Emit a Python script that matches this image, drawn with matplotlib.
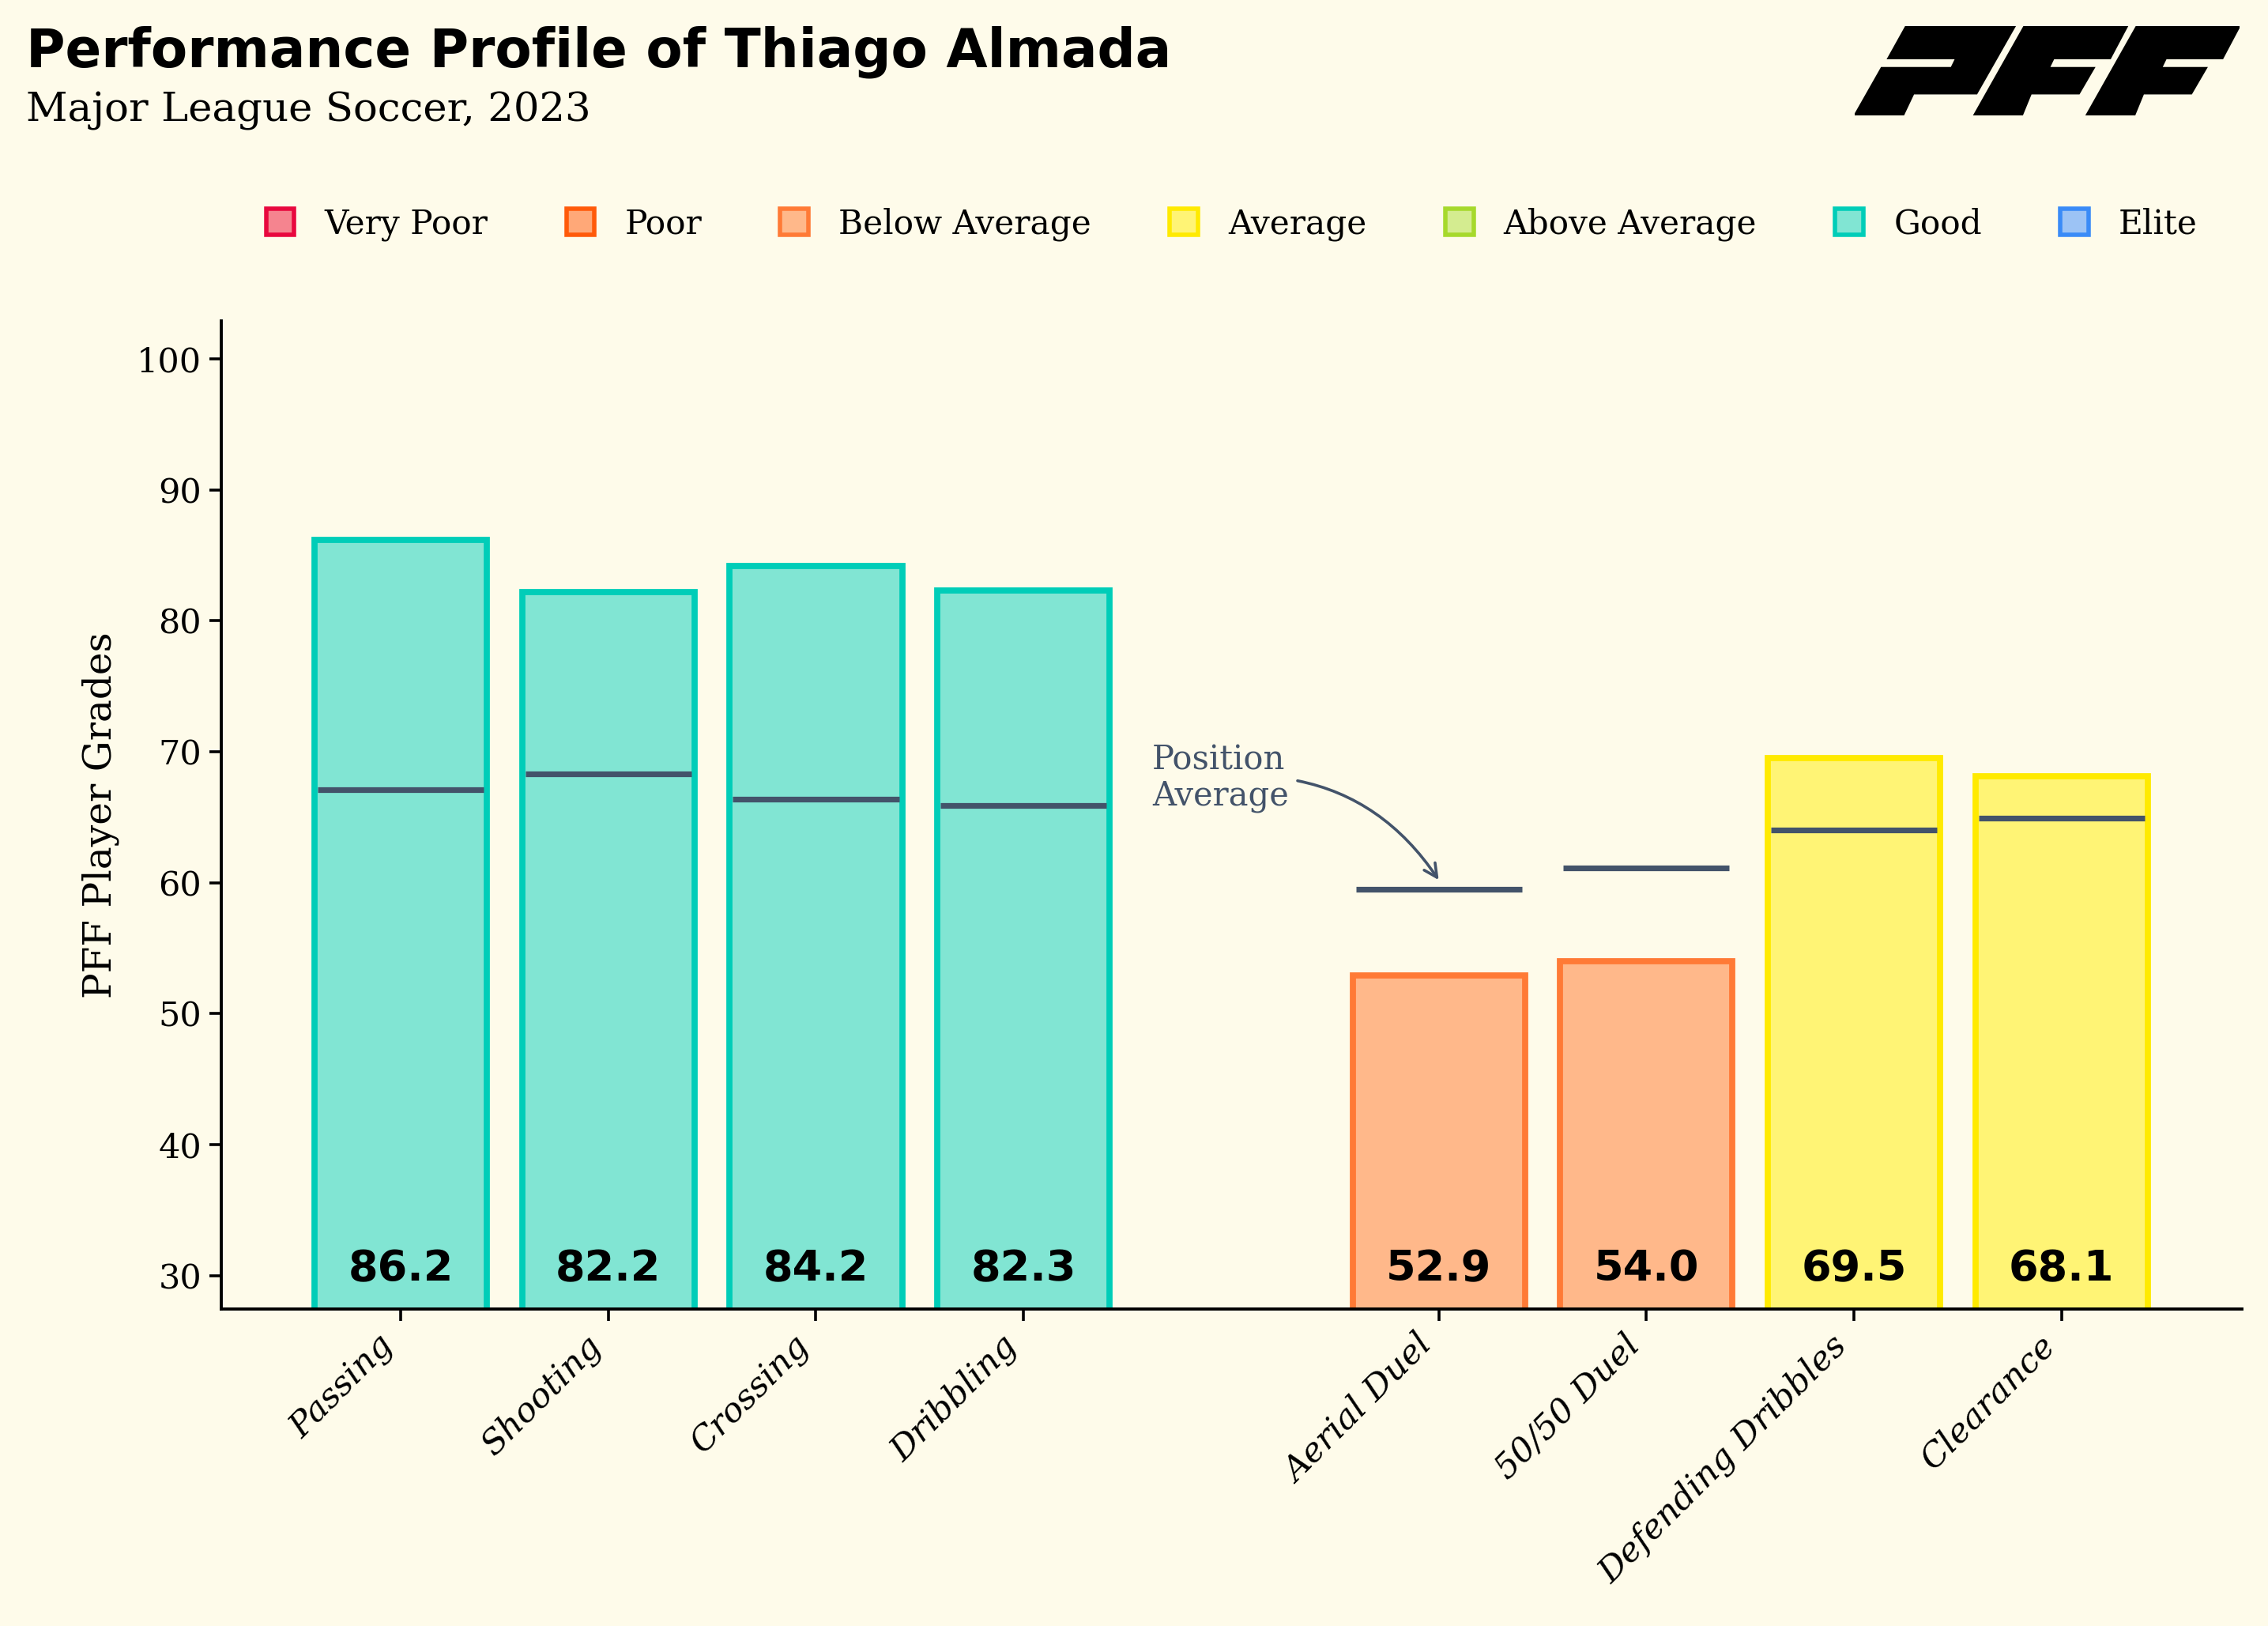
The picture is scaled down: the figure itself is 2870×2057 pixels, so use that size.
import numpy as np
import matplotlib.pyplot as plt
from matplotlib.patches import Patch, Polygon

# data
metrics = ['Passing', 'Shooting', 'Crossing', 'Dribbling',
           'Aerial Duel', '50/50 Duel', 'Defending Dribbles', 'Clearance']
positions = [0, 1, 2, 3, 5, 6, 7, 8]
grades = [86.2, 82.2, 84.2, 82.3, 52.9, 54.0, 69.5, 68.1]
position_avg = [67.1, 68.3, 66.4, 65.9, 59.5, 61.1, 64.0, 64.9]
grade_band = ['Good', 'Good', 'Good', 'Good',
              'Below Average', 'Below Average', 'Average', 'Average']

bands = ['Very Poor', 'Poor', 'Below Average', 'Average', 'Above Average', 'Good', 'Elite']
band_fill = ['#F5848F', '#FFA878', '#FFB88A', '#FFF475', '#D4EC90', '#81E5D3', '#9CC3F5']
band_edge = ['#E8083E', '#FF5A0A', '#FF7A36', '#FFEA00', '#A6D92C', '#00CDB8', '#3A8BF7']

bg = '#FEFBEA'
avg_col = '#43536A'
serif = 'DejaVu Serif'

plt.rcParams['font.family'] = serif

fig = plt.figure(figsize=(14.35, 10.285), dpi=200, facecolor=bg)
ax = fig.add_axes([0.0976, 0.195, 0.891, 0.6077], facecolor=bg)

fills = [band_fill[bands.index(b)] for b in grade_band]
edges = [band_edge[bands.index(b)] for b in grade_band]
ax.bar(positions, grades, width=0.83, color=fills, edgecolor=edges, linewidth=2.8, zorder=2)

# position average markers
ax.hlines(position_avg, np.array(positions) - 0.4, np.array(positions) + 0.4,
          color=avg_col, linewidth=2.6, zorder=3)

# grade labels at the foot of each bar
for x, g in zip(positions, grades):
    ax.text(x, 30.5, f'{g:.1f}', ha='center', va='center', fontsize=19.5,
            fontweight='heavy', family='DejaVu Sans', color='black', zorder=4)

ax.set_xlim(-0.864, 8.87)
ax.set_ylim(27.45, 102.9)
ax.set_yticks([30, 40, 50, 60, 70, 80, 90, 100])
ax.set_xticks(positions)
ax.set_xticklabels(metrics, rotation=45, ha='right', fontstyle='italic', fontsize=15.5)
ax.tick_params(axis='y', labelsize=15.5, length=5.5, width=1.3)
ax.tick_params(axis='x', length=5.5, width=1.3)
ax.set_ylabel('PFF Player Grades', fontsize=17.5, labelpad=8)

for s in ['top', 'right']:
    ax.spines[s].set_visible(False)
for s in ['left', 'bottom']:
    ax.spines[s].set_linewidth(1.4)

ax.annotate('Position\nAverage', xy=(5.0, 60.2), xytext=(3.62, 68.0),
            fontsize=15, color=avg_col, ha='left', va='center', linespacing=1.1,
            arrowprops=dict(arrowstyle='->', color=avg_col, lw=1.3,
                            connectionstyle='arc3,rad=-0.3', shrinkA=2, shrinkB=0))

handles = [Patch(facecolor=f, edgecolor=e, linewidth=2) for f, e in zip(band_fill, band_edge)]
ax.legend(handles, bands, loc='center', bbox_to_anchor=(0.5, 1.098), ncol=7, frameon=False,
          fontsize=15.2, handlelength=0.85, handleheight=0.85, handletextpad=0.9,
          columnspacing=2.35)

fig.text(0.0115, 0.984, 'Performance Profile of Thiago Almada', fontsize=24.3,
         fontweight='heavy', family='DejaVu Sans', va='top', ha='left')
fig.text(0.0115, 0.944, 'Major League Soccer, 2023', fontsize=18.5, va='top', ha='left')

# PFF logo
lax = fig.add_axes([0.8178, 0.929, 0.1697, 0.0549])
lax.set_xlim(118, 1478)
lax.set_ylim(440, 97)
lax.axis('off')
logo_p = [(300, 97), (683, 97), (548, 355), (325, 355), (288, 440), (118, 440),
          (213, 258), (460, 258), (477, 220), (237, 220)]
logo_f = [(718, 97), (1080, 97), (1020, 220), (820, 220), (803, 258), (962, 258),
          (910, 355), (740, 355), (708, 440), (540, 440)]
lax.add_patch(Polygon(logo_p, closed=True, color='black'))
lax.add_patch(Polygon(logo_f, closed=True, color='black'))
lax.add_patch(Polygon([(x + 397, y) for x, y in logo_f], closed=True, color='black'))

fig.savefig('out.png', dpi=200, facecolor=bg)
